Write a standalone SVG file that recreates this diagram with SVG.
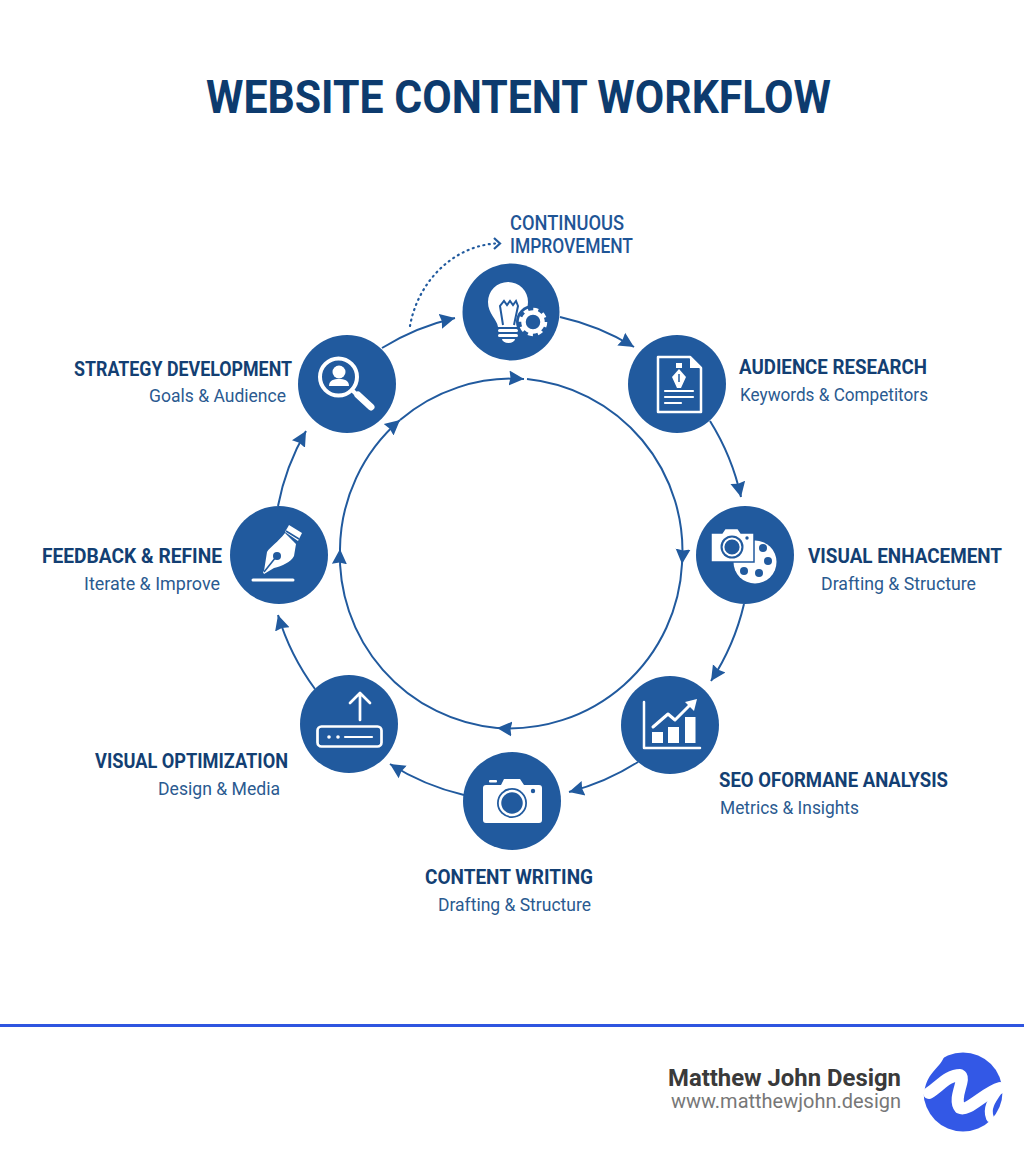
<svg xmlns="http://www.w3.org/2000/svg" width="1024" height="1154" viewBox="0 0 1024 1154">
<style>
text{font-family:Roboto,"Liberation Sans",sans-serif}
.t{font-size:20px;font-weight:700;fill:#133f73}
.s{font-size:18.500px;font-weight:400;fill:#2a5a90}
.c{font-size:20px;font-weight:500;fill:#1f5596}
.disc{fill:#215a9e}
.w{fill:#fff}
.ws{fill:none;stroke:#fff;stroke-linecap:round;stroke-linejoin:round}
.b{fill:#215a9e}
.arc{fill:none;stroke:#215a9e;stroke-width:2;marker-end:url(#ah)}
</style>
<defs>
<marker id="ah" markerUnits="userSpaceOnUse" markerWidth="18" markerHeight="18" refX="15" refY="9" orient="auto"><path d="M0 1.500L15 9L0 16.500L1.500 9Z" fill="#215a9e"/></marker>
</defs>
<rect width="1024" height="1154" fill="#fff"/>
<text x="206" y="113" font-size="46" font-weight="700" fill="#0d3b6e" textLength="625" lengthAdjust="spacingAndGlyphs">WEBSITE CONTENT WORKFLOW</text>

<g id="connectors">
<path class="arc" d="M560 317A242 242 0 0 1 634 347"/>
<path class="arc" d="M710 421A240 240 0 0 1 741 497"/>
<path class="arc" d="M744 604A240 240 0 0 1 711 681"/>
<path class="arc" d="M638 762A240 240 0 0 1 569 792"/>
<path class="arc" d="M464 795A240 240 0 0 1 390 764"/>
<path class="arc" d="M315 689A240 240 0 0 1 278 615"/>
<path class="arc" d="M278 506A240 240 0 0 1 306 431"/>
<path class="arc" d="M382 348A240 240 0 0 1 455 318"/>
<path class="arc" d="M527 379A173 173 0 0 1 682 564"/>
<path class="arc" d="M682 564A173 173 0 0 1 497 728"/>
<path class="arc" d="M497 728A173 173 0 0 1 340 549"/>
<path class="arc" d="M340 549A173 173 0 0 1 400 420"/>
<path class="arc" d="M400 420A173 173 0 0 1 524 379"/>
<path d="M410 326C417 285 450 247 495 243.500" fill="none" stroke="#215a9e" stroke-width="2.200" stroke-linecap="round" stroke-dasharray="1 4.500"/>
<path d="M494 238L500 243.500L494 249" fill="none" stroke="#215a9e" stroke-width="2.200"/>
</g>

<g id="node-improvement">
<circle class="disc" cx="511" cy="312" r="48.500"/>
<path class="w" d="M498 327C497 319 488 314 488 302A20 20 0 0 1 528 302C528 314 519 319 517 327Z"/>
<path d="M503 325L500 306L504 301L507 305L510 301L513 305L516 301L518 306L514 325" fill="none" stroke="#215a9e" stroke-width="2"/>
<rect class="w" x="498" y="329" width="20" height="3" rx="1.500"/>
<rect class="w" x="498" y="334" width="20" height="3" rx="1.500"/>
<path class="w" d="M502 339H515A6.500 4 0 0 1 502 339Z"/>
<circle class="b" cx="533" cy="322" r="17"/>
<circle cx="533" cy="322" r="9.500" fill="none" stroke="#fff" stroke-width="4.500"/>
<circle cx="533" cy="322" r="12.500" fill="none" stroke="#fff" stroke-width="3.500" stroke-dasharray="4.900 4.900"/>
<text class="c" x="510" y="230" textLength="114" lengthAdjust="spacingAndGlyphs">CONTINUOUS</text>
<text class="c" x="510" y="253" textLength="123" lengthAdjust="spacingAndGlyphs">IMPROVEMENT</text>
</g>

<g id="node-audience">
<circle class="disc" cx="677" cy="384" r="49"/>
<path class="ws" stroke-width="2.500" d="M658 357H690L701 368V412H658Z"/>
<path class="w" d="M690 358L700 368H690Z"/>
<path class="w" d="M676 363H682V368H676ZM679 369L686 377L681 388H677L672 377Z"/>
<path d="M679 374V382" stroke="#215a9e" stroke-width="1.500"/>
<path class="ws" stroke-width="2.200" stroke-linecap="butt" d="M665 391H693M665 397H693M665 403H681"/>
<text class="t" x="739" y="374" textLength="188" lengthAdjust="spacingAndGlyphs">AUDIENCE RESEARCH</text>
<text class="s" x="740" y="401" textLength="188" lengthAdjust="spacingAndGlyphs">Keywords &amp; Competitors</text>
</g>

<g id="node-visual-enhancement">
<circle class="disc" cx="745" cy="555" r="49"/>
<circle class="w" cx="755" cy="562" r="21.500"/>
<circle class="b" cx="763" cy="548" r="4"/><circle class="b" cx="768" cy="561" r="4"/><circle class="b" cx="759" cy="573" r="4"/><circle class="b" cx="744" cy="571" r="4"/>
<path class="w" stroke="#215a9e" stroke-width="1.500" d="M711 533H722L725 528.500H738L741 533H754V562H711Z"/>
<circle class="b" cx="732" cy="547" r="11.500"/><circle cx="732" cy="547" r="8.500" fill="none" stroke="#fff" stroke-width="1.800"/>
<circle class="b" cx="747" cy="538" r="1.700"/>
<text class="t" x="808" y="563" textLength="194" lengthAdjust="spacingAndGlyphs">VISUAL ENHACEMENT</text>
<text class="s" x="821" y="590" textLength="155" lengthAdjust="spacingAndGlyphs">Drafting &amp; Structure</text>
</g>

<g id="node-seo">
<circle class="disc" cx="670" cy="725" r="49"/>
<path class="ws" stroke-width="2.500" stroke-linecap="butt" stroke-linejoin="miter" d="M644 702V748H700"/>
<rect class="w" x="652" y="732" width="11" height="11"/><rect class="w" x="668" y="727" width="11" height="16"/><rect class="w" x="685" y="717" width="10.500" height="26"/>
<path class="ws" stroke-width="3" stroke-linecap="butt" stroke-linejoin="miter" d="M653 727L668 714L675 720L692 703"/>
<path class="w" d="M697 699L694 711L685 702Z"/>
<text class="t" x="719" y="787" textLength="229" lengthAdjust="spacingAndGlyphs">SEO OFORMANE ANALYSIS</text>
<text class="s" x="720" y="814" textLength="139" lengthAdjust="spacingAndGlyphs">Metrics &amp; Insights</text>
</g>

<g id="node-content">
<circle class="disc" cx="512" cy="801" r="49"/>
<path class="w" d="M486 785H501L504 779H520L524 785H539A3 3 0 0 1 542 788V820A3 3 0 0 1 539 823H486A3 3 0 0 1 483 820V788A3 3 0 0 1 486 785Z"/>
<rect class="w" x="489" y="780" width="8" height="2.500" rx="1"/>
<circle class="b" cx="512" cy="803" r="15"/><circle cx="512" cy="803" r="12" fill="none" stroke="#fff" stroke-width="2.500"/>
<circle class="b" cx="533" cy="791" r="2.200"/>
<text class="t" x="425" y="884" textLength="168" lengthAdjust="spacingAndGlyphs">CONTENT WRITING</text>
<text class="s" x="438" y="911" textLength="153" lengthAdjust="spacingAndGlyphs">Drafting &amp; Structure</text>
</g>

<g id="node-visual-optimization">
<circle class="disc" cx="349" cy="724" r="49"/>
<rect x="317.500" y="726.500" width="64" height="20" rx="4" fill="none" stroke="#fff" stroke-width="2.700"/>
<circle class="w" cx="329" cy="737" r="1.800"/><circle class="w" cx="338" cy="737" r="1.800"/>
<path class="ws" stroke-width="2.200" stroke-linecap="butt" d="M345 737H372"/>
<path class="ws" stroke-width="2.700" d="M360 720V693M350 703L360 693L370 703" stroke-linecap="butt"/>
<text class="t" x="95" y="768" textLength="193" lengthAdjust="spacingAndGlyphs">VISUAL OPTIMIZATION</text>
<text class="s" x="158" y="795" textLength="122" lengthAdjust="spacingAndGlyphs">Design &amp; Media</text>
</g>

<g id="node-feedback">
<circle class="disc" cx="279" cy="555" r="49"/>
<path class="w" d="M285 533L296 544L294 556C291 562 282 566 274 568L264 574L263 572L274 557L277 556L264 571L267 552C270 547 278 542 285 533Z"/>
<circle class="b" cx="277" cy="556" r="4"/>
<path d="M276 557L264 572" stroke="#215a9e" stroke-width="1.600"/>
<path class="w" d="M289 525L302 533L298 541L285 532Z"/>
<path d="M286 531L299 539" stroke="#215a9e" stroke-width="1.500"/>
<path class="ws" stroke-width="3" stroke-linecap="butt" d="M253 580H293"/>
<text class="t" x="42" y="563" textLength="180" lengthAdjust="spacingAndGlyphs">FEEDBACK &amp; REFINE</text>
<text class="s" x="84" y="590" textLength="136" lengthAdjust="spacingAndGlyphs">Iterate &amp; Improve</text>
</g>

<g id="node-strategy">
<circle class="disc" cx="347" cy="384" r="49"/>
<circle cx="338.500" cy="377" r="18.500" fill="none" stroke="#fff" stroke-width="4"/>
<circle class="w" cx="339" cy="372" r="6.500"/>
<path class="w" d="M329 386C329 380 334 379 339 379C344 379 349 380 349 386Z"/>
<path class="ws" stroke-width="4" stroke-linecap="butt" d="M352 390L358 396"/>
<path class="ws" stroke-width="7" d="M358 395L371 407"/>
<text class="t" x="74" y="376" textLength="218" lengthAdjust="spacingAndGlyphs">STRATEGY DEVELOPMENT</text>
<text class="s" x="149" y="402" textLength="137" lengthAdjust="spacingAndGlyphs">Goals &amp; Audience</text>
</g>

<g id="footer">
<rect x="0" y="1024" width="1024" height="3" fill="#2f55e0"/>
<text x="668" y="1086" font-size="23" font-weight="700" fill="#3a3a3a" textLength="233" lengthAdjust="spacingAndGlyphs">Matthew John Design</text>
<text x="671" y="1108" font-size="19.500" fill="#777" textLength="230" lengthAdjust="spacingAndGlyphs">www.matthewjohn.design</text>
<circle cx="963" cy="1092" r="39.500" fill="#3358e6"/>
<path class="w" d="M921 1050H945C946 1058 940 1064 933 1072C928 1078 925 1084 924 1094L920 1094Z"/>
<path class="ws" stroke-width="12" stroke-linecap="butt" d="M929 1093C940 1086 948 1075 960 1075C967 1078 952 1098 960 1108C968 1112 985 1092 1000 1088"/>
<path class="ws" stroke-width="8" stroke-linecap="butt" d="M999 1090C992 1100 986 1108 990 1118"/>
</g>
</svg>
